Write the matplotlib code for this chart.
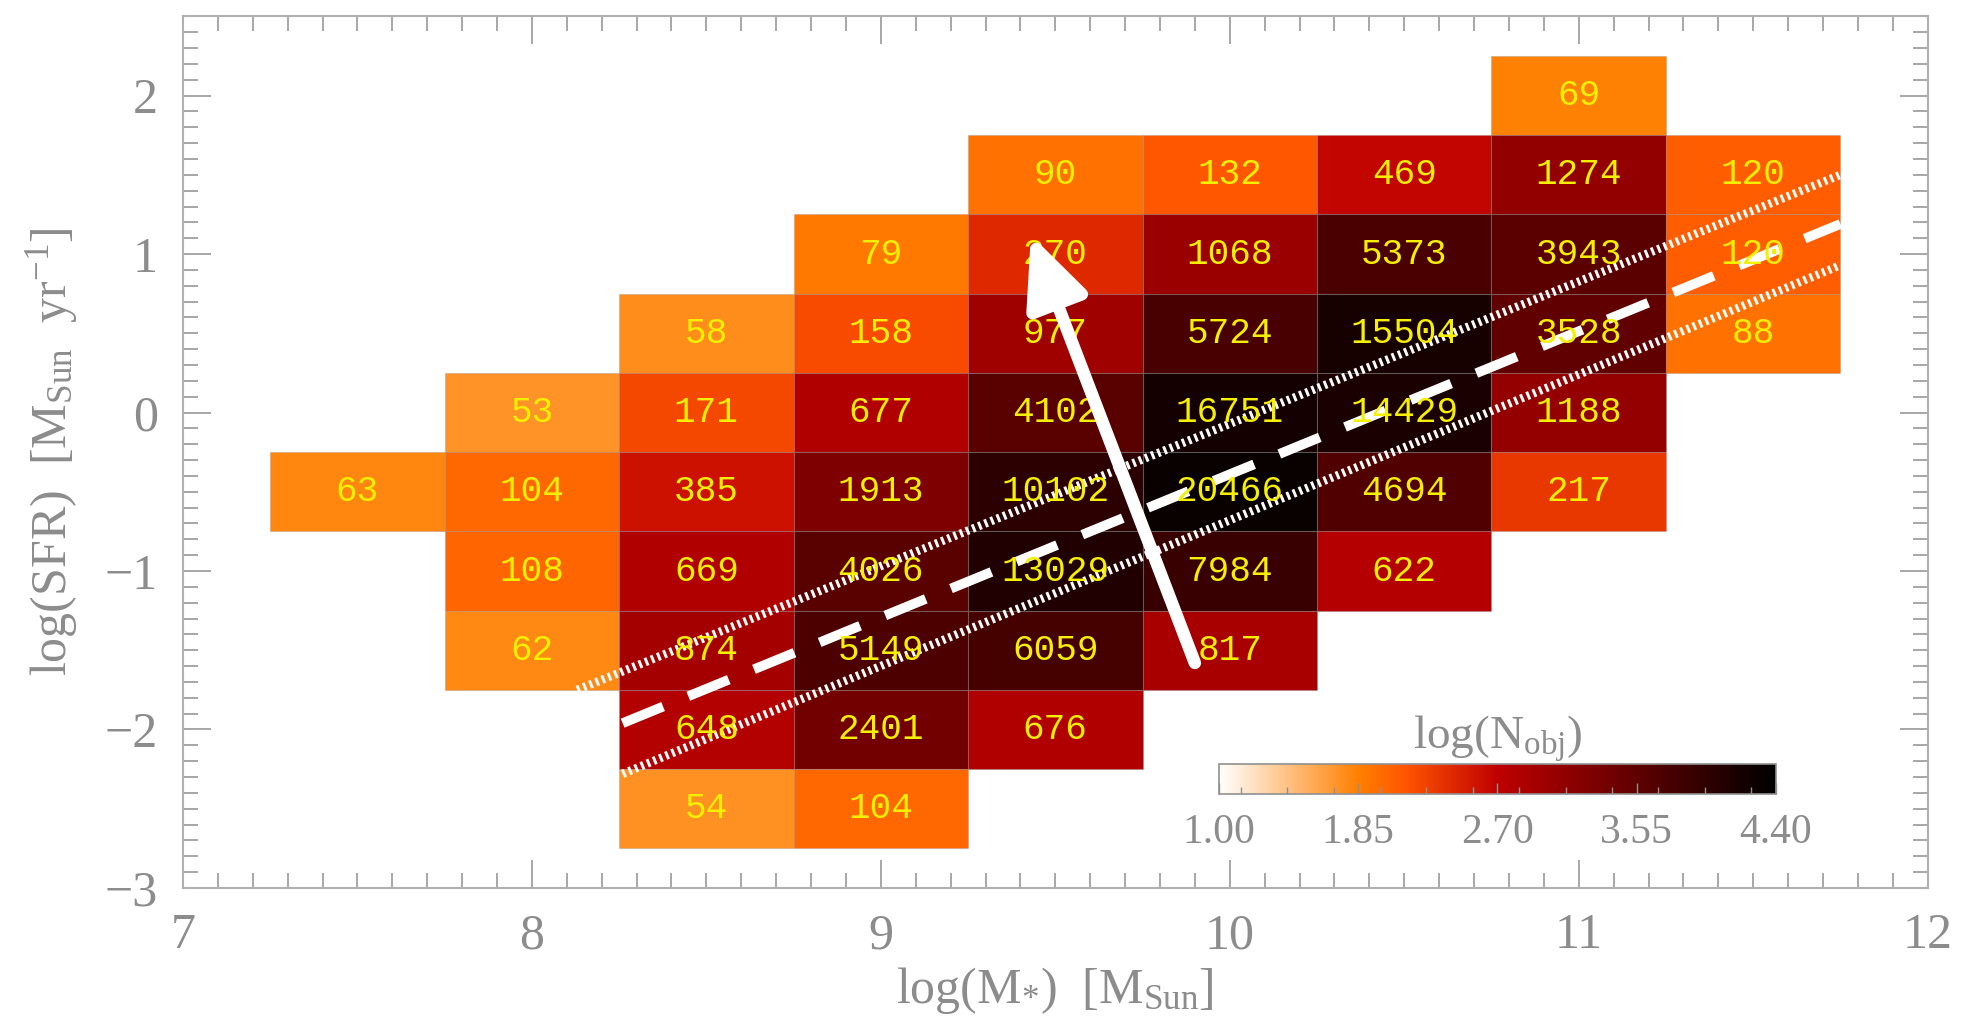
import matplotlib
matplotlib.use("Agg")
import matplotlib.pyplot as plt
import numpy as np
from matplotlib.ticker import MultipleLocator
from matplotlib.colors import Normalize
from matplotlib.cm import ScalarMappable

# bin centres: log(M*) columns and log(SFR) rows (top row first)
mass_bins = [7.5, 8.0, 8.5, 9.0, 9.5, 10.0, 10.5, 11.0, 11.5]
sfr_bins = [2.0, 1.5, 1.0, 0.5, 0.0, -0.5, -1.0, -1.5, -2.0, -2.5]

# number of objects per bin (0 = empty)
counts = [
    [0, 0, 0, 0, 0, 0, 0, 69, 0],
    [0, 0, 0, 0, 90, 132, 469, 1274, 120],
    [0, 0, 0, 79, 270, 1068, 5373, 3943, 120],
    [0, 0, 58, 158, 977, 5724, 15504, 3528, 88],
    [0, 53, 171, 677, 4102, 16751, 14429, 1188, 0],
    [63, 104, 385, 1913, 10102, 20466, 4694, 217, 0],
    [0, 108, 669, 4026, 13029, 7984, 622, 0, 0],
    [0, 62, 874, 5149, 6059, 817, 0, 0, 0],
    [0, 0, 648, 2401, 676, 0, 0, 0, 0],
    [0, 0, 54, 104, 0, 0, 0, 0, 0],
]

# main sequence fit and its scatter (line end points)
ms_x = [8.26, 11.75]
ms_y = [-1.96, 1.19]
ms_up_x = [8.13, 11.75]
ms_up_y = [-1.75, 1.50]
ms_lo_x = [8.26, 11.75]
ms_lo_y = [-2.28, 0.93]

# evolution arrow (start, end)
arrow_start = (9.90, -1.58)
arrow_end = (9.43, 1.12)

cbar_ticks = [1.00, 1.85, 2.70, 3.55, 4.40]

grey = "#8c8c8c"
plt.rcParams["font.family"] = ["Liberation Serif", "DejaVu Serif"]
plt.rcParams["mathtext.fontset"] = "custom"
plt.rcParams["mathtext.rm"] = "Liberation Serif"
plt.rcParams["mathtext.it"] = "Liberation Serif"
plt.rcParams["mathtext.default"] = "regular"

fig = plt.figure(figsize=(19.61, 10.23), dpi=100)
ax = fig.add_axes([0.0933, 0.132, 0.8897, 0.852])

cmap = plt.get_cmap("gist_heat_r")
norm = Normalize(vmin=1.0, vmax=4.4)

# one filled box per non-empty bin
for i, yv in enumerate(sfr_bins):
    for j, xv in enumerate(mass_bins):
        n = counts[i][j]
        if n <= 0:
            continue
        ax.bar(xv, 0.5, width=0.5, bottom=yv - 0.25,
               color=cmap(norm(np.log10(n))),
               edgecolor=(0.55, 0.55, 0.55, 0.3), linewidth=0.8)
        ax.text(xv, yv, str(n), ha="center", va="center",
                color="#f5f000", fontsize=26,
                family=["Liberation Mono", "DejaVu Sans Mono"])

ax.plot(ms_x, ms_y, color="white", lw=7, dashes=(4.5, 2.8), solid_capstyle="butt")
ax.plot(ms_up_x, ms_up_y, color="white", lw=6, dashes=(0.35, 0.45))
ax.plot(ms_lo_x, ms_lo_y, color="white", lw=6, dashes=(0.35, 0.45))

ax.annotate("", xy=arrow_end, xytext=arrow_start,
            arrowprops=dict(arrowstyle="-|>,head_length=0.42,head_width=0.19",
                            mutation_scale=100, color="white", lw=9,
                            shrinkA=0, shrinkB=0))

ax.set_xlim(7, 12)
ax.set_ylim(-3, 2.5)
ax.xaxis.set_major_locator(MultipleLocator(1))
ax.xaxis.set_minor_locator(MultipleLocator(0.1))
ax.yaxis.set_major_locator(MultipleLocator(1))
ax.yaxis.set_minor_locator(MultipleLocator(0.1))
ax.tick_params(which="both", direction="in", top=True, right=True,
               color="#a0a0a0", width=1.3, labelcolor=grey, labelsize=36)
ax.tick_params(which="major", length=20, pad=18)
ax.tick_params(which="minor", length=11)
for s in ax.spines.values():
    s.set_color("#b0b0b0")
    s.set_linewidth(1.5)

ax.set_xlabel(r"log(M$_{*}$)  [M$_{Sun}$]", color=grey, fontsize=36, labelpad=4)
ax.set_ylabel(r"log(SFR)  [M$_{Sun}$  yr$^{-1}$]", color=grey, fontsize=36, labelpad=18)

# colour bar inset
cax = fig.add_axes([0.6216, 0.2239, 0.284, 0.0293])
sm = ScalarMappable(norm=norm, cmap=cmap)
cb = fig.colorbar(sm, cax=cax, orientation="horizontal")
cb.set_ticks(cbar_ticks)
cb.set_ticklabels([f"{t:.2f}" for t in cbar_ticks])
cax.xaxis.set_minor_locator(MultipleLocator(0.85 / 3))
cax.tick_params(which="both", direction="in", color="#909090", width=1.0,
                labelcolor=grey, labelsize=30, pad=14)
cax.tick_params(which="major", length=8)
cax.tick_params(which="minor", length=5)
cb.outline.set_edgecolor("#909090")
cb.outline.set_linewidth(1.2)
cax.set_title(r"log(N$_{obj}$)", color=grey, fontsize=34, pad=4)

fig.savefig("out.png", dpi=100)
